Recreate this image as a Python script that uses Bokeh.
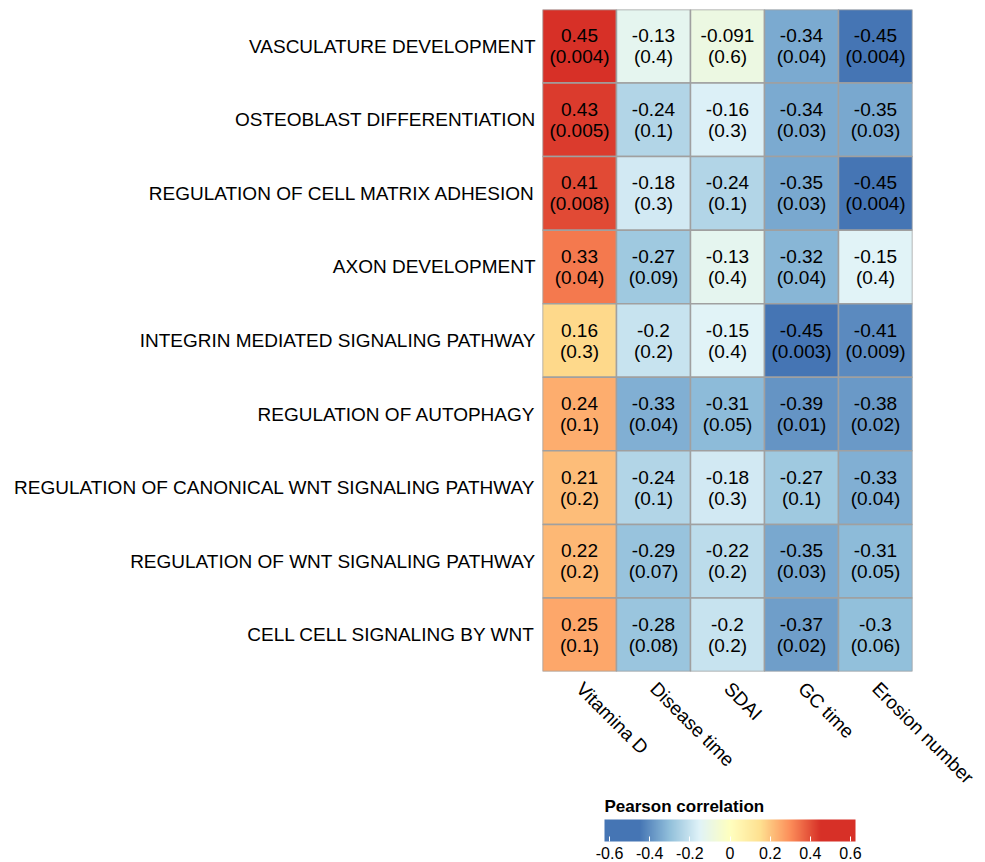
import numpy as np
from bokeh.plotting import figure
from bokeh.models import ColumnDataSource, LinearColorMapper, ColorBar, FixedTicker, FactorRange
from bokeh.core.properties import value
from bokeh.embed import file_html
from bokeh.resources import INLINE

pathways = [
    "VASCULATURE DEVELOPMENT",
    "OSTEOBLAST DIFFERENTIATION",
    "REGULATION OF CELL MATRIX ADHESION",
    "AXON DEVELOPMENT",
    "INTEGRIN MEDIATED SIGNALING PATHWAY",
    "REGULATION OF AUTOPHAGY",
    "REGULATION OF CANONICAL WNT SIGNALING PATHWAY",
    "REGULATION OF WNT SIGNALING PATHWAY",
    "CELL CELL SIGNALING BY WNT",
]
variables = ["Vitamina D", "Disease time", "SDAI", "GC time", "Erosion number"]

r_vitd = ["0.45", "0.43", "0.41", "0.33", "0.16", "0.24", "0.21", "0.22", "0.25"]
r_dist = ["-0.13", "-0.24", "-0.18", "-0.27", "-0.2", "-0.33", "-0.24", "-0.29", "-0.28"]
r_sdai = ["-0.091", "-0.16", "-0.24", "-0.13", "-0.15", "-0.31", "-0.18", "-0.22", "-0.2"]
r_gct = ["-0.34", "-0.34", "-0.35", "-0.32", "-0.45", "-0.39", "-0.27", "-0.35", "-0.37"]
r_eros = ["-0.45", "-0.35", "-0.45", "-0.15", "-0.41", "-0.38", "-0.33", "-0.31", "-0.3"]

p_vitd = ["0.004", "0.005", "0.008", "0.04", "0.3", "0.1", "0.2", "0.2", "0.1"]
p_dist = ["0.4", "0.1", "0.3", "0.09", "0.2", "0.04", "0.1", "0.07", "0.08"]
p_sdai = ["0.6", "0.3", "0.1", "0.4", "0.4", "0.05", "0.3", "0.2", "0.2"]
p_gct = ["0.04", "0.03", "0.03", "0.04", "0.003", "0.01", "0.1", "0.03", "0.02"]
p_eros = ["0.004", "0.03", "0.004", "0.4", "0.009", "0.02", "0.04", "0.05", "0.06"]

legend_ticks = [-0.6, -0.4, -0.2, 0, 0.2, 0.4, 0.6]
legend_tick_labels = ["-0.6", "-0.4", "-0.2", "0", "0.2", "0.4", "0.6"]

r_cols = [r_vitd, r_dist, r_sdai, r_gct, r_eros]
p_cols = [p_vitd, p_dist, p_sdai, p_gct, p_eros]

# colour ramp: reversed RdYlBu(7), spread over data range, clamped outside
base = ["#4575B4", "#91BFDB", "#E0F3F8", "#FFFFBF", "#FEE090", "#FC8D59", "#D73027"]
lo_d, hi_d = -0.45, 0.45
lo_m, hi_m = -0.625, 0.625
def hex2rgb(h):
    return np.array([int(h[i:i + 2], 16) for i in (1, 3, 5)], dtype=float)
base_rgb = [hex2rgb(h) for h in base]
N = 250
palette = []
for i in range(N):
    v = lo_m + (i + 0.5) * (hi_m - lo_m) / N
    v = min(max(v, lo_d), hi_d)
    t = (v - lo_d) / (hi_d - lo_d) * (len(base) - 1)
    k = min(int(t), len(base) - 2)
    f = t - k
    c = base_rgb[k] * (1 - f) + base_rgb[k + 1] * f
    palette.append("#%02x%02x%02x" % tuple(int(round(x)) for x in c))
mapper = LinearColorMapper(palette=palette, low=lo_m, high=hi_m)

xs, ys, vals, labels = [], [], [], []
for j, var in enumerate(variables):
    for i, pw in enumerate(pathways):
        xs.append(var)
        ys.append(pw)
        vals.append(float(r_cols[j][i]))
        labels.append(r_cols[j][i] + "\n(" + p_cols[j][i] + ")")
src = ColumnDataSource(dict(x=xs, y=ys, v=vals, lab=labels))

W, H = 985, 860
FL, FR, FT, FB = 542, 912, 9, 671
p = figure(width=W, height=H, output_backend="svg", toolbar_location=None,
           x_range=FactorRange(*variables), y_range=FactorRange(*reversed(pathways)),
           min_border_left=FL, min_border_right=W - FR, min_border_top=FT,
           min_border_bottom=H - FB)
p.outline_line_color = None
p.grid.grid_line_color = None
p.background_fill_color = None
p.border_fill_color = "white"

p.rect(x="x", y="y", width=1, height=1, source=src,
       fill_color={"field": "v", "transform": mapper},
       line_color="#a0a0a0", line_width=1.5)
p.text(x="x", y="y", text="lab", source=src, text_align="center",
       text_baseline="middle", text_font=value("Liberation Sans"),
       text_font_size="19px", text_color="black", text_line_height=1.0)

for ax in (p.xaxis[0], p.yaxis[0]):
    ax.axis_line_color = None
    ax.major_tick_line_color = None
    ax.minor_tick_line_color = None
    ax.major_label_text_font = "Liberation Sans"
    ax.major_label_text_font_size = "19px"
    ax.major_label_text_color = "black"
p.yaxis.major_label_standoff = 1
p.xaxis.major_label_standoff = 8
p.xaxis.major_label_orientation = -np.pi / 4

cb = ColorBar(color_mapper=mapper, orientation="horizontal", width=251, height=22,
              location=(62, -190), padding=0,
              ticker=FixedTicker(ticks=legend_ticks),
              major_label_overrides=dict(zip(legend_ticks, legend_tick_labels)),
              title="Pearson correlation", title_text_font="Liberation Sans",
              title_text_font_style="bold", title_text_font_size="17px",
              title_standoff=7, title_text_color="black",
              major_label_text_font="Liberation Sans", major_label_text_font_size="16px",
              major_label_text_color="black", label_standoff=5,
              major_tick_line_color="white", major_tick_in=5, major_tick_out=0,
              bar_line_color=None, background_fill_alpha=0, border_line_color=None)
p.add_layout(cb, "center")

open("out.html", "w").write(file_html(p, INLINE))
